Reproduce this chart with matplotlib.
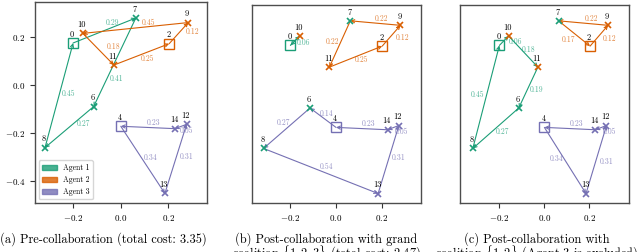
import matplotlib
matplotlib.use('Agg')
import matplotlib.pyplot as plt
from matplotlib.patches import Patch
from matplotlib.ticker import MultipleLocator

plt.rcParams['font.family'] = 'serif'
plt.rcParams['font.serif'] = ['cmr10']
plt.rcParams['mathtext.fontset'] = 'cm'
plt.rcParams['axes.formatter.use_mathtext'] = True

# ---------------- data ----------------
agent_names = ['Agent 1', 'Agent 2', 'Agent 3']
agent_colors = ['#1b9e77', '#d95f02', '#7570b3']
depots = [0, 2, 4]

node_ids = [0, 2, 4, 6, 7, 8, 9, 10, 11, 12, 13, 14]
node_x = [-0.200, 0.203, 0.000, -0.114, 0.063, -0.318, 0.283, -0.159, -0.029, 0.276, 0.185, 0.227]
node_y = [0.175, 0.172, -0.172, -0.090, 0.279, -0.261, 0.260, 0.215, 0.083, -0.164, -0.452, -0.182]
node_owner = [0, 1, 2, 0, 0, 0, 1, 1, 1, 2, 2, 2]

routes_a = [[0, 7, 6, 8, 0], [2, 9, 10, 11, 2], [4, 13, 12, 14, 4]]
costs_a = [[0.29, 0.41, 0.27, 0.45], [0.12, 0.45, 0.18, 0.25], [0.34, 0.31, 0.05, 0.23]]

routes_b = [[0, 10, 0], [2, 9, 7, 11, 2], [4, 6, 8, 13, 12, 14, 4]]
costs_b = [[0.06, 0.06], [0.12, 0.22, 0.22, 0.25], [0.14, 0.27, 0.54, 0.31, 0.05, 0.23]]

routes_c = [[0, 10, 11, 6, 8, 0], [2, 9, 7, 2], [4, 13, 12, 14, 4]]
costs_c = [[0.06, 0.18, 0.19, 0.27, 0.45], [0.12, 0.22, 0.17], [0.34, 0.31, 0.05, 0.23]]

captions = [
    ['(a) Pre-collaboration (total cost: 3.35)'],
    ['(b) Post-collaboration with grand', r'coalition $\{1, 2, 3\}$ (total cost: 2.47)'],
    ['(c) Post-collaboration with', r'coalition $\{1, 2\}$ (Agent 3 is excluded)'],
]

# ---------------- layout / style ----------------
# label offsets (screen pixels: right, down) relative to edge midpoint
label_off_a = {(0, 7): (8.5, -7.5), (7, 6): (2, 16), (6, 8): (14, -3), (8, 0): (9, -2),
               (2, 9): (14, -1), (9, 10): (13, -5), (10, 11): (15, -2.5), (11, 2): (6, 4),
               (4, 13): (8, -2), (13, 12): (11, -2), (12, 14): (6, 4.5), (14, 4): (6, -4.5)}
label_off_b = {(0, 10): (8, 2), (2, 9): (11, 2), (9, 7): (6, -4), (7, 11): (-7, -2), (11, 2): (6, 3),
               (4, 6): (3.5, -4.4), (6, 8): (-3, -5), (8, 13): (6, -4), (13, 12): (10.5, -2),
               (12, 14): (8, 4), (14, 4): (7, -4.5)}
label_off_c = {(0, 10): (12, 1), (10, 11): (5, -1.5), (11, 6): (8.5, 2.5), (6, 8): (7, 3.5),
               (8, 0): (-8.5, -2), (2, 9): (10, 3), (9, 7): (7.7, -4), (7, 2): (-6, 6),
               (4, 13): (-9, -2), (13, 12): (10.5, 2.5), (12, 14): (8, 4), (14, 4): (7, -4.5)}

W, H = 640, 252
fig = plt.figure(figsize=(W / 100, H / 100), dpi=100)


def px_axes(l, t, r, b):
    return fig.add_axes([l / W, 1 - b / H, (r - l) / W, (b - t) / H])


panels = [
    dict(box=(35, 1.7, 207.3, 203.3), xlim=(-0.360, 0.363), ylim=(-0.493, 0.347),
         routes=routes_a, costs=costs_a, off=label_off_a, ylabels=True, legend=True, cap_x=103.5),
    dict(box=(251.7, 5, 420.7, 203), xlim=(-0.370, 0.372), ylim=(-0.492, 0.346),
         routes=routes_b, costs=costs_b, off=label_off_b, ylabels=False, legend=False, cap_x=326),
    dict(box=(460, 5, 629, 203), xlim=(-0.375, 0.376), ylim=(-0.492, 0.346),
         routes=routes_c, costs=costs_c, off=label_off_c, ylabels=False, legend=False, cap_x=537),
]

pos = {n: (x, y) for n, x, y in zip(node_ids, node_x, node_y)}
own = {n: o for n, o in zip(node_ids, node_owner)}

for pi, p in enumerate(panels):
    ax = px_axes(*p['box'])
    ax.set_xlim(*p['xlim'])
    ax.set_ylim(*p['ylim'])
    ax.xaxis.set_major_locator(MultipleLocator(0.2))
    ax.yaxis.set_major_locator(MultipleLocator(0.2))
    ax.tick_params(labelsize=6.5, width=0.8, length=3.5, color='0.2')
    if not p['ylabels']:
        ax.tick_params(left=False, labelleft=False)
    for s in ax.spines.values():
        s.set_color('0.3')
        s.set_linewidth(1.0)

    for k, (route, costs) in enumerate(zip(p['routes'], p['costs'])):
        c = agent_colors[k]
        done = set()
        for i in range(len(route) - 1):
            u, v = route[i], route[i + 1]
            ax.annotate('', xy=pos[v], xytext=pos[u],
                        arrowprops=dict(arrowstyle='->', color=c, lw=0.8,
                                        shrinkA=0, shrinkB=0, mutation_scale=5.5),
                        zorder=2)
            key = frozenset((u, v))
            if key in done:
                continue
            done.add(key)
            mx = (pos[u][0] + pos[v][0]) / 2
            my = (pos[u][1] + pos[v][1]) / 2
            dx, dy = p['off'].get((u, v), (8, 0))
            ax.annotate(f'{costs[i]:.2f}', xy=(mx, my), xytext=(dx, -dy),
                        textcoords='offset pixels', ha='center', va='center',
                        fontsize=5.5, color=c, alpha=0.75, zorder=4)

    for n in node_ids:
        x, y = pos[n]
        c = agent_colors[own[n]]
        if n in depots:
            ax.plot(x, y, marker='s', ms=7, mfc='none', mec=c, mew=1.0, zorder=3)
        else:
            ax.plot(x, y, marker='x', ms=4.8, mew=1.2, color=c, zorder=3)
        ax.annotate(str(n), xy=(x, y), xytext=(-1, 8.5), textcoords='offset pixels',
                    ha='center', va='center', fontsize=6, color='black', zorder=5)

    if p['legend']:
        handles = [Patch(facecolor=agent_colors[i], edgecolor=agent_colors[i], alpha=0.8,
                         label=agent_names[i]) for i in range(3)]
        ax.legend(handles=handles, loc='lower left', fontsize=5.5)

    for li, line in enumerate(captions[pi]):
        fig.text(p['cap_x'] / W, 1 - (243 + 15 * li) / H, line, ha='center',
                 va='baseline', fontsize=8.9)

fig.savefig('out.png', dpi=100)
